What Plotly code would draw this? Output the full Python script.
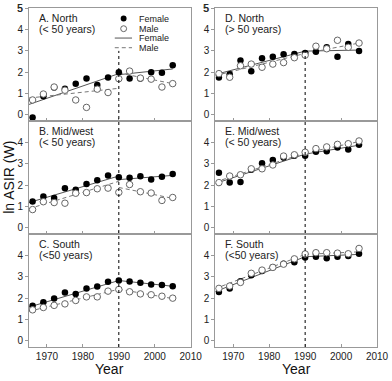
import plotly.graph_objects as go
from plotly.subplots import make_subplots

# ---------------- data ----------------
years = [1966, 1969, 1972, 1975, 1978, 1981, 1984, 1987, 1990, 1993, 1996, 1999, 2002, 2005]
seg1_years = [1965, 1990]
seg2_years = [1990, 2005]
break_year = 1990
x_ticks = [1970, 1980, 1990, 2000, 2010]
top_y_label = 5

a_female = [-0.14, 0.86, 1.28, 1.22, 1.45, 1.70, 1.40, 1.75, 2.00, 1.70, 1.70, 2.00, 1.97, 2.33]
a_male   = [0.69, 0.97, 1.30, 1.15, 0.69, 0.34, 1.20, 1.04, 1.69, 2.05, 1.72, 1.67, 1.30, 1.46]
a_trend_f = [[0.48, 1.93], [1.88, 2.15]]
a_trend_m = [[0.78, 1.24], [1.96, 1.46]]

b_female = [1.23, 1.46, 1.40, 1.85, 1.78, 2.05, 2.23, 2.46, 2.37, 2.35, 2.42, 2.26, 2.40, 2.52]
b_male   = [0.85, 1.22, 1.18, 1.15, 1.62, 1.65, 1.83, 1.86, 1.66, 2.03, 1.69, 1.63, 1.28, 1.42]
b_trend_f = [[1.18, 2.43], [2.26, 2.46]]
b_trend_m = [[0.89, 2.18], [1.89, 1.38]]

c_female = [1.64, 1.81, 1.98, 2.27, 2.19, 2.45, 2.55, 2.77, 2.83, 2.78, 2.72, 2.64, 2.62, 2.56]
c_male   = [1.45, 1.56, 1.66, 1.73, 1.89, 2.06, 2.06, 2.33, 2.41, 2.30, 2.20, 2.16, 2.09, 2.00]
c_trend_f = [[1.58, 2.83], [2.83, 2.56]]
c_trend_m = [[1.38, 2.42], [2.42, 1.98]]

d_female = [1.75, 1.90, 2.55, 2.04, 2.65, 2.73, 2.84, 2.85, 2.90, 2.96, 3.17, 2.73, 3.33, 3.00]
d_male   = [1.93, 1.76, 2.30, 2.38, 2.23, 2.38, 2.45, 2.68, 2.80, 3.22, 3.10, 3.50, 3.17, 3.37]
d_trend_f = [[1.89, 2.99], [2.99, 3.04]]
d_trend_m = [[1.84, 2.88], [2.88, 3.37]]

e_female = [2.58, 2.12, 2.15, 2.73, 3.03, 3.18, 3.30, 3.38, 3.38, 3.57, 3.60, 3.77, 3.68, 3.90]
e_male   = [2.12, 2.43, 2.49, 2.77, 2.77, 2.95, 3.37, 3.43, 3.55, 3.72, 3.80, 3.92, 3.95, 4.08]
e_trend_f = [[2.08, 3.46], [3.46, 3.88]]
e_trend_m = [[2.15, 3.51], [3.51, 4.05]]

f_female = [2.29, 2.46, 2.80, 3.08, 3.28, 3.45, 3.62, 3.69, 3.91, 3.95, 3.88, 3.95, 3.98, 4.09]
f_male   = [2.46, 2.57, 2.74, 3.17, 3.32, 3.45, 3.60, 3.85, 4.08, 4.14, 4.14, 4.12, 4.09, 4.34]
f_trend_f = [[2.31, 3.95], [3.95, 4.06]]
f_trend_m = [[2.45, 4.06], [4.06, 4.18]]

panel_titles = ["A. North", "D. North", "B. Mid/west", "E. Mid/west", "C. South", "F. South"]
panel_subtitles = ["(< 50 years)", "(> 50 years)", "(< 50 years)", "(< 50 years)", "(<50 years)", "(<50 years)"]
legend_labels = ["Female", "Male", "Female", "Male"]

# --------------- figure ---------------
W, H = 392, 381
ML, MR, MT, MB = 29, 10, 3, 34
YMIN, YMAX = -0.3, 5.02
FONT = "Liberation Sans, Arial, sans-serif"
LINE_GREY = "#999999"
TICK_FONT = dict(family=FONT, size=10, color="#222222")

fig = make_subplots(rows=3, cols=2, horizontal_spacing=25 / (W - ML - MR), vertical_spacing=0)

panels = [
    (1, 1, a_female, a_male, a_trend_f, a_trend_m),
    (1, 2, d_female, d_male, d_trend_f, d_trend_m),
    (2, 1, b_female, b_male, b_trend_f, b_trend_m),
    (2, 2, e_female, e_male, e_trend_f, e_trend_m),
    (3, 1, c_female, c_male, c_trend_f, c_trend_m),
    (3, 2, f_female, f_male, f_trend_f, f_trend_m),
]

for (r, c, fem, mal, tf, tm) in panels:
    for seg_x, seg_f, seg_m in [(seg1_years, tf[0], tm[0]), (seg2_years, tf[1], tm[1])]:
        fig.add_trace(go.Scatter(x=seg_x, y=seg_f, mode="lines",
                                 line=dict(color="#555555", width=1), showlegend=False,
                                 hoverinfo="skip"), row=r, col=c)
        fig.add_trace(go.Scatter(x=seg_x, y=seg_m, mode="lines",
                                 line=dict(color="#777777", width=1, dash="4px,3px"), showlegend=False,
                                 hoverinfo="skip"), row=r, col=c)
    fig.add_trace(go.Scatter(x=years, y=fem, mode="markers",
                             marker=dict(symbol="circle", size=6.5, color="black",
                                         line=dict(width=0)), showlegend=False), row=r, col=c)
    fig.add_trace(go.Scatter(x=years, y=mal, mode="markers",
                             marker=dict(symbol="circle", size=6.5, color="white",
                                         line=dict(width=1, color="#666666")), showlegend=False), row=r, col=c)

    fig.update_xaxes(row=r, col=c, range=[1965, 2010], tickvals=x_ticks,
                     ticks="inside", ticklen=3, tickcolor=LINE_GREY,
                     showline=True, linecolor=LINE_GREY, linewidth=1, mirror=True,
                     showgrid=False, zeroline=False, ticklabeloverflow="allow",
                     showticklabels=(r == 3), tickfont=TICK_FONT)
    fig.update_yaxes(row=r, col=c, range=[YMIN, YMAX],
                     tickvals=[0, 1, 2, 3, 4, 5] if r == 1 else [0, 1, 2, 3, 4],
                     ticks="outside", ticklen=3, tickcolor=LINE_GREY,
                     showline=True, linecolor=LINE_GREY, linewidth=1, mirror=True,
                     showgrid=False, zeroline=False, ticklabeloverflow="allow",
                     tickfont=TICK_FONT)

# top "5" tick label of the upper panels (plotly hides it because it touches the page edge)
for xa, ya in [("x domain", "y"), ("x2 domain", "y2")]:
    fig.add_annotation(xref=xa, yref=ya, x=0, y=top_y_label, text=str(top_y_label),
                       showarrow=False, xanchor="right", yanchor="middle", xshift=-4,
                       font=TICK_FONT)

# panel labels
plot_h = H - MT - MB
panel_h = plot_h / 3
axis_names = ["", "2", "3", "4", "5", "6"]
for i, name in enumerate(axis_names):
    xr, yr = f"x{name} domain", f"y{name} domain"
    fig.add_annotation(xref=xr, yref=yr, x=0.05, y=1 - 10.5 / panel_h, text=panel_titles[i],
                       showarrow=False, xanchor="left", yanchor="middle",
                       font=dict(family=FONT, size=10.5, color="#222222"))
    fig.add_annotation(xref=xr, yref=yr, x=0.05, y=1 - 21.5 / panel_h, text=panel_subtitles[i],
                       showarrow=False, xanchor="left", yanchor="middle",
                       font=dict(family=FONT, size=10.5, color="#222222"))

# vertical dotted break line per column (starts at y = 3 in top panel)
top_dom0 = 2 / 3
y_top = top_dom0 + (3 - YMIN) / (YMAX - YMIN) / 3
for xa in ["x", "x2"]:
    fig.add_shape(type="line", xref=xa, yref="paper", x0=break_year, x1=break_year,
                  y0=0, y1=y_top, line=dict(color="black", width=1, dash="dot"))

# legend in panel A (drawn with shapes + text)
pw = (W - ML - MR) * (1 - 25 / (W - ML - MR)) / 2
xc = (125 - ML) / pw
rows_y = [1 - (13.7 - MT) / panel_h, 1 - (24 - MT) / panel_h,
          1 - (33.5 - MT) / panel_h, 1 - (43.3 - MT) / panel_h]
rx, ry = 3 / pw, 3 / panel_h
fig.add_shape(type="circle", xref="x domain", yref="y domain",
              x0=xc - rx, x1=xc + rx, y0=rows_y[0] - ry, y1=rows_y[0] + ry,
              fillcolor="black", line=dict(width=0))
fig.add_shape(type="circle", xref="x domain", yref="y domain",
              x0=xc - rx, x1=xc + rx, y0=rows_y[1] - ry, y1=rows_y[1] + ry,
              fillcolor="white", line=dict(width=1, color="#666666"))
lx0, lx1 = (116 - ML) / pw, (133.5 - ML) / pw
fig.add_shape(type="line", xref="x domain", yref="y domain",
              x0=lx0, x1=lx1, y0=rows_y[2], y1=rows_y[2], line=dict(color="#555555", width=1))
fig.add_shape(type="line", xref="x domain", yref="y domain",
              x0=lx0, x1=lx1, y0=rows_y[3], y1=rows_y[3],
              line=dict(color="#777777", width=1, dash="4px,3px"))
for lab, yy in zip(legend_labels, rows_y):
    fig.add_annotation(xref="x domain", yref="y domain", x=(139 - ML) / pw, y=yy, text=lab,
                       showarrow=False, xanchor="left", yanchor="middle",
                       font=dict(family=FONT, size=9, color="#222222"))

# axis titles
fig.add_annotation(xref="paper", yref="paper", x=-21 / (W - ML - MR), y=0.5, text="ln ASIR (W)",
                   textangle=-90, showarrow=False, xanchor="center", yanchor="middle",
                   font=dict(family=FONT, size=14, color="#111111"))
for xa in ["x domain", "x2 domain"]:
    fig.add_annotation(xref=xa, yref="paper", x=0.5, y=-(369 - (H - MB)) / plot_h, text="Year",
                       showarrow=False, xanchor="center", yanchor="middle",
                       font=dict(family=FONT, size=14, color="#111111"))

fig.update_layout(width=W, height=H, margin=dict(l=ML, r=MR, t=MT, b=MB),
                  plot_bgcolor="white", paper_bgcolor="white", showlegend=False,
                  hovermode=False)

fig.write_html("out.html", config={"displayModeBar": False, "staticPlot": True},
               post_script="document.body.style.margin='0';document.body.style.padding='0';")
